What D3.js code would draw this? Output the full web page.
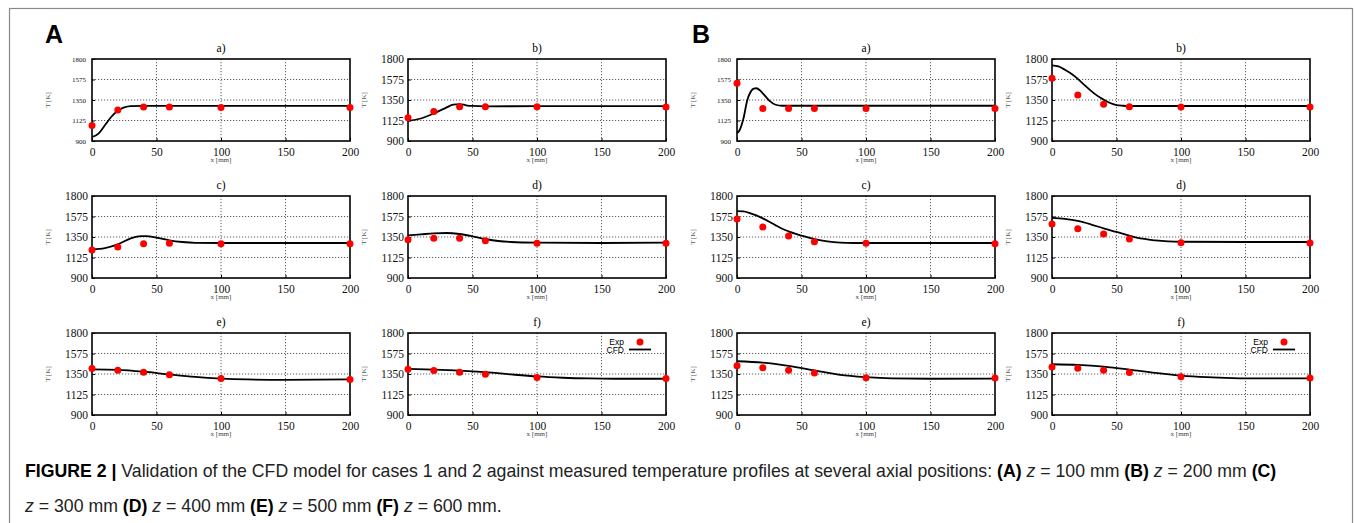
<!DOCTYPE html>
<html>
<head>
<meta charset="utf-8">
<script src="https://cdn.jsdelivr.net/npm/d3@7"></script>
<style>
  body { margin: 0; background: #fff; }
  svg { display: block; }
  .serif text, text.serif { font-family: "Liberation Serif", "Times New Roman", "DejaVu Serif", serif; }
</style>
</head>
<body>
<div id="fig"></div>
<script>
// valores
var posX = [0, 20, 40, 60, 100, 200];
var yTicks = [900, 1125, 1350, 1575, 1800];
var xTicks = [0, 50, 100, 150, 200];

// Exp (puntos rojos) por panel
var expAa = [1070, 1239, 1273, 1273, 1269, 1269];
var expAb = [1155, 1225, 1276, 1276, 1276, 1272];
var expAc = [1207, 1240, 1277, 1281, 1277, 1277];
var expAd = [1321, 1335, 1335, 1310, 1281, 1281];
var expAe = [1410, 1390, 1368, 1343, 1300, 1290];
var expAf = [1402, 1388, 1370, 1348, 1312, 1301];
var expBa = [1534, 1258, 1258, 1258, 1258, 1258];
var expBb = [1590, 1405, 1302, 1276, 1272, 1272];
var expBc = [1548, 1460, 1361, 1299, 1281, 1277];
var expBd = [1493, 1441, 1383, 1328, 1288, 1284];
var expBe = [1440, 1418, 1390, 1360, 1310, 1305];
var expBf = [1428, 1413, 1392, 1366, 1319, 1305];

// CFD (linea) por panel: pares [x, T]
var cfdAa = [[0,944],[5,981],[10,1073],[15,1166],[20,1232],[25,1269],[30,1283],[40,1285],[100,1285],[200,1285]];
var cfdAb = [[0,1121],[10,1147],[20,1202],[30,1269],[35,1300],[40,1305],[45,1292],[50,1285],[60,1281],[100,1282],[200,1282]];
var cfdAc = [[0,1215],[10,1229],[20,1269],[30,1335],[38,1360],[42,1360],[50,1343],[60,1313],[70,1295],[80,1286],[100,1284],[200,1284]];
var cfdAd = [[0,1368],[10,1379],[20,1390],[30,1394],[40,1383],[50,1358],[60,1328],[70,1306],[80,1295],[100,1288],[150,1284],[200,1288]];
var cfdAe = [[0,1400],[20,1395],[40,1375],[60,1345],[80,1318],[100,1300],[120,1290],[150,1285],[200,1290]];
var cfdAf = [[0,1406],[20,1399],[40,1388],[60,1370],[80,1345],[100,1323],[120,1309],[140,1301],[160,1298],[200,1298]];
var cfdBa = [[0,989],[2,1018],[5,1147],[8,1350],[10,1424],[13,1475],[15,1479],[18,1453],[20,1424],[25,1343],[30,1298],[35,1287],[50,1287],[200,1287]];
var cfdBb = [[0,1730],[5,1719],[10,1682],[15,1638],[20,1582],[25,1516],[30,1453],[35,1398],[40,1354],[45,1317],[50,1295],[55,1287],[60,1284],[200,1284]];
var cfdBc = [[0,1635],[5,1632],[10,1613],[15,1588],[20,1555],[25,1518],[30,1478],[35,1441],[40,1412],[45,1386],[50,1365],[60,1328],[70,1302],[80,1288],[90,1284],[200,1284]];
var cfdBd = [[0,1559],[10,1548],[20,1526],[30,1489],[40,1445],[50,1405],[60,1365],[70,1331],[80,1313],[90,1302],[100,1298],[150,1295],[200,1295]];
var cfdBe = [[0,1490],[20,1475],[40,1440],[60,1390],[80,1340],[100,1315],[120,1302],[150,1298],[200,1300]];
var cfdBf = [[0,1457],[20,1450],[40,1431],[60,1399],[80,1362],[100,1333],[120,1315],[140,1305],[160,1301],[200,1301]];

var paneles = [
  {t:"a)", col:0, row:0, exp:expAa, cfd:cfdAa, chico:true},
  {t:"b)", col:1, row:0, exp:expAb, cfd:cfdAb},
  {t:"c)", col:0, row:1, exp:expAc, cfd:cfdAc},
  {t:"d)", col:1, row:1, exp:expAd, cfd:cfdAd},
  {t:"e)", col:0, row:2, exp:expAe, cfd:cfdAe},
  {t:"f)", col:1, row:2, exp:expAf, cfd:cfdAf, leyenda:true},
  {t:"a)", col:2, row:0, exp:expBa, cfd:cfdBa, chico:true},
  {t:"b)", col:3, row:0, exp:expBb, cfd:cfdBb},
  {t:"c)", col:2, row:1, exp:expBc, cfd:cfdBc},
  {t:"d)", col:3, row:1, exp:expBd, cfd:cfdBd},
  {t:"e)", col:2, row:2, exp:expBe, cfd:cfdBe},
  {t:"f)", col:3, row:2, exp:expBf, cfd:cfdBf, leyenda:true}
];

var _b = 1355, _h = 523;
var colX = [92, 408, 737, 1052];
var rowY = [59, 196, 333];
var pw = 258, ph = 82;
var sans = "'Liberation Sans',Arial,sans-serif";

var svg = d3.select("#fig").append("svg").attr("width", _b).attr("height", _h);

// marco
svg.append("rect").attr("x", 9.5).attr("y", 8.5).attr("width", 1343).attr("height", 530)
   .attr("fill", "none").attr("stroke", "#8a8a8a").attr("stroke-width", 1.2);

svg.append("text").attr("x", 45).attr("y", 43).text("A")
   .style("font-family", sans).style("font-weight", "bold").style("font-size", "25px");
svg.append("text").attr("x", 692).attr("y", 43).text("B")
   .style("font-family", sans).style("font-weight", "bold").style("font-size", "25px");

var x = d3.scaleLinear().domain([0, 200]).range([0, pw]);
var y = d3.scaleLinear().domain([900, 1800]).range([ph, 0]);
var linea = d3.line().x(function(d){ return x(d[0]); }).y(function(d){ return y(d[1]); }).curve(d3.curveMonotoneX);

paneles.forEach(function(p) {
  var g = svg.append("g").attr("class", "serif")
    .attr("transform", "translate(" + colX[p.col] + "," + rowY[p.row] + ")");

  // rejilla punteada
  g.append("g").selectAll("line").data(yTicks.slice(1, -1)).enter().append("line")
    .attr("x1", 0).attr("x2", pw).attr("y1", function(d){ return y(d); }).attr("y2", function(d){ return y(d); })
    .attr("stroke", "#333").attr("stroke-width", 0.8).attr("stroke-dasharray", "1.2,1.8");
  g.append("g").selectAll("line").data(xTicks.slice(1, -1)).enter().append("line")
    .attr("y1", 0).attr("y2", ph).attr("x1", function(d){ return x(d); }).attr("x2", function(d){ return x(d); })
    .attr("stroke", "#333").attr("stroke-width", 0.8).attr("stroke-dasharray", "1.2,1.8");

  // ejes
  var ejeX = g.append("g").attr("transform", "translate(0," + ph + ")")
    .call(d3.axisBottom(x).tickValues(xTicks).tickFormat(d3.format("d")).tickSize(-3).tickPadding(7));
  var ejeY = g.append("g")
    .call(d3.axisLeft(y).tickValues(yTicks).tickFormat(d3.format("d")).tickSize(-3).tickPadding(p.chico ? 6 : 4));
  [ejeX, ejeY].forEach(function(e) {
    e.attr("font-family", null);
    e.select(".domain").remove();
    e.selectAll("text").attr("fill", "#111");
  });
  ejeX.attr("font-size", null).selectAll("text").style("font-size", "11.5px");
  ejeY.attr("font-size", null).selectAll("text").style("font-size", p.chico ? "7px" : "11.5px");

  g.append("rect").attr("width", pw).attr("height", ph)
    .attr("fill", "none").attr("stroke", "#000").attr("stroke-width", 1.6);

  g.append("text").attr("x", pw / 2).attr("y", -7).attr("text-anchor", "middle").text(p.t)
    .style("font-size", "11.5px");
  g.append("text").attr("x", pw / 2).attr("y", ph + 21).attr("text-anchor", "middle").text("x [mm]")
    .style("font-size", "7px").attr("fill", "#444");
  g.append("text").attr("transform", "translate(-42," + (ph / 2) + ")rotate(-90)")
    .attr("text-anchor", "middle").text("T [K]")
    .style("font-size", "7px").attr("fill", "#555");

  // CFD
  g.append("path").attr("d", linea(p.cfd)).attr("fill", "none").attr("stroke", "#000").attr("stroke-width", 1.8);
  // Exp
  g.append("g").selectAll("circle").data(p.exp).enter().append("circle")
    .attr("cx", function(d, i){ return x(posX[i]); }).attr("cy", function(d){ return y(d); })
    .attr("r", 3.5).attr("fill", "#f00");

  if (p.leyenda) {
    g.append("text").attr("x", 216).attr("y", 12).attr("text-anchor", "end").text("Exp")
      .style("font-family", sans).style("font-size", "8.5px").attr("fill", "#000");
    g.append("text").attr("x", 216).attr("y", 19.5).attr("text-anchor", "end").text("CFD")
      .style("font-family", sans).style("font-size", "8.5px").attr("fill", "#000");
    g.append("circle").attr("cx", 232).attr("cy", 9).attr("r", 3.5).attr("fill", "#f00");
    g.append("line").attr("x1", 221).attr("x2", 243).attr("y1", 16.5).attr("y2", 16.5)
      .attr("stroke", "#000").attr("stroke-width", 1.8);
  }
});

// pie de figura
var cap1 = svg.append("text").attr("x", 25).attr("y", 477)
  .style("font-family", sans).style("font-size", "17.7px").attr("fill", "#222");
var partes1 = [["FIGURE 2 | ", "b"], ["Validation of the CFD model for cases 1 and 2 against measured temperature profiles at several axial positions: ", ""],
  ["(A)", "b"], [" ", ""], ["z", "i"], [" = 100 mm ", ""], ["(B)", "b"], [" ", ""], ["z", "i"], [" = 200 mm ", ""], ["(C)", "b"]];
var partes2 = [["z", "i"], [" = 300 mm ", ""], ["(D)", "b"], [" ", ""], ["z", "i"], [" = 400 mm ", ""], ["(E)", "b"], [" ", ""], ["z", "i"], [" = 500 mm ", ""],
  ["(F)", "b"], [" ", ""], ["z", "i"], [" = 600 mm.", ""]];
function escribir(t, partes) {
  partes.forEach(function(s) {
    var ts = t.append("tspan").text(s[0]);
    if (s[1] == "b") ts.style("font-weight", "bold").attr("fill", "#000");
    if (s[1] == "i") ts.style("font-style", "italic");
  });
}
escribir(cap1, partes1);
var cap2 = svg.append("text").attr("x", 25).attr("y", 512)
  .style("font-family", sans).style("font-size", "17.7px").attr("fill", "#222");
escribir(cap2, partes2);
</script>
</body>
</html>
